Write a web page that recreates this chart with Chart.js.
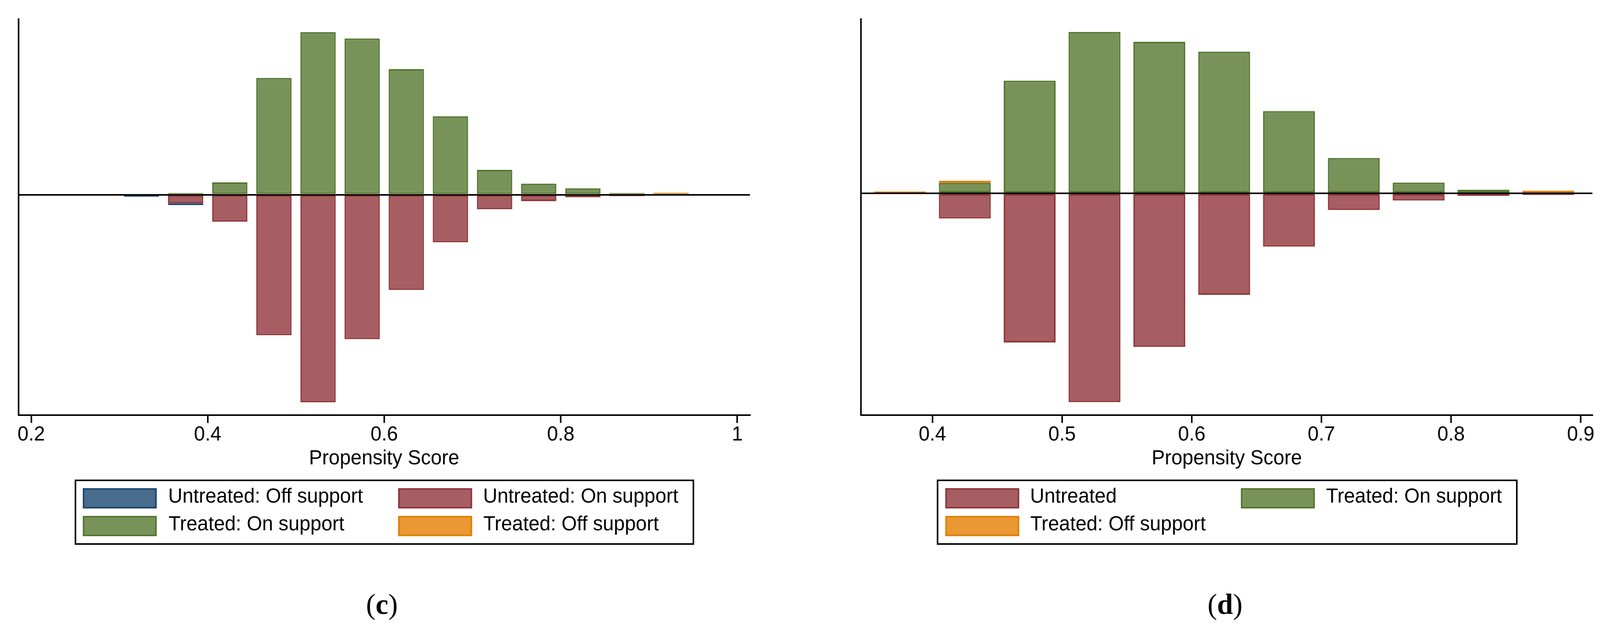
<!DOCTYPE html>
<html><head><meta charset="utf-8">
<script src="https://cdn.jsdelivr.net/npm/chart.js@4.4.1/dist/chart.umd.min.js"></script>
<style>
html,body{margin:0;padding:0;background:#fff;overflow:hidden;}
#root{position:absolute;left:0;top:0;width:4135px;height:1626px;transform-origin:0 0;font-family:"Liberation Sans",Arial,sans-serif;background:#fff;}
canvas{position:absolute;}
.box{position:absolute;border:4px solid #000;box-sizing:border-box;}
.sw{position:absolute;width:191px;height:52px;border:4px solid;box-sizing:border-box;}
.lt{position:absolute;font-size:51px;line-height:51px;white-space:nowrap;color:#000;}
.cap{position:absolute;width:400px;text-align:center;font-family:"Liberation Serif","Times New Roman",serif;font-size:74px;line-height:74px;color:#000;}
</style></head>
<body>
<div id="root">
<canvas id="cC" width="2000" height="1210" style="left:0;top:0;width:2000px;height:1210px"></canvas>
<canvas id="cD" width="1957" height="1210" style="left:2178px;top:0;width:1957px;height:1210px"></canvas>
</div>
<script>
// ---------- data: panel (c) ----------
const binsC = [0.325,0.375,0.425,0.475,0.525,0.575,0.625,0.675,0.725,0.775,0.825,0.875,0.925];
const untreatedOnC  = [null,-5.4,-17.3,-90.0,-132.9,-92.5,-61.0,-30.5,-9.3,-4.1,-1.6,-1.0,null];
const untreatedOffC = [-1.3,-1.25,null,null,null,null,null,null,null,null,null,null,null];
const treatedOnC    = [null,1.1,7.9,74.8,104.1,100.0,80.4,50.2,15.9,7.1,4.1,1.1,null];
const treatedOffC   = [null,null,null,null,null,null,null,null,null,null,null,null,1.3];
const ticksC = [0.2,0.4,0.6,0.8,1];

// ---------- data: panel (d) ----------
const binsD = [0.375,0.425,0.475,0.525,0.575,0.625,0.675,0.725,0.775,0.825,0.875];
const untreatedD  = [null,-16.1,-95.5,-133.7,-98.3,-65.0,-34.1,-10.7,-4.6,-1.7,-1.0];
const treatedOnD  = [null,6.7,72.1,103.3,97.0,90.7,52.6,22.6,6.9,2.3,null];
const treatedOffD = [1.2,1.35,null,null,null,null,null,null,null,null,1.7];
const ticksD = [0.4,0.5,0.6,0.7,0.8,0.9];

const axisTitle = 'Propensity Score';
const COL = {
  blue:  {line:'#1a476f', fill:'#486c8c'},
  red:   {line:'#90353b', fill:'#a65e62'},
  green: {line:'#55752f', fill:'#789359'},
  orange:{line:'#e37e00', fill:'#e99833'}
};

// fit the 4135x1626 drawing to the actual viewport
const root = document.getElementById('root');
const sx = window.innerWidth / 4135, sy = window.innerHeight / 1626;
if (Math.abs(sx - 1) > 0.001 || Math.abs(sy - 1) > 0.001) {
  root.style.transform = 'scale(' + sx + ',' + sy + ')';
}

Chart.defaults.font.family = '"Liberation Sans", Arial, sans-serif';
Chart.defaults.color = '#000';

function makeChart(id, bins, sets, xmin, xmax, ymin, ymax, ticks, pad){
  return new Chart(document.getElementById(id), {
    type:'bar',
    data:{datasets: sets.map(s => ({
      label: s.label,
      data: bins.map((x,i) => ({x:x, y:s.values[i]})).filter(p => p.y !== null),
      backgroundColor: s.col.fill, borderColor: s.col.line, borderWidth: 4,
      borderSkipped: false, barPercentage: 0.8, categoryPercentage: 1.0
    }))},
    options:{
      responsive:false, animation:false, devicePixelRatio:1,
      layout:{padding:pad},
      plugins:{legend:{display:false}, tooltip:{enabled:false}},
      scales:{
        x:{type:'linear', min:xmin, max:xmax, offset:false, stacked:true,
          afterBuildTicks: s => { s.ticks = ticks.map(v => ({value:v})); },
          afterFit: s => { s.paddingLeft = 0; s.paddingRight = 0; },
          grid:{display:true, offset:false, drawOnChartArea:false, drawTicks:true, tickLength:20, tickWidth:4, tickColor:'#000', color:'#000', lineWidth:4},
          border:{display:true, color:'#000', width:4},
          ticks:{padding:0, maxRotation:0, autoSkip:false, font:{size:51}, color:'#000', callback: v => String(v)},
          title:{display:true, text:axisTitle, font:{size:51}, color:'#000', padding:{top:0, bottom:0}}
        },
        y:{min:ymin, max:ymax, stacked:true,
          afterBuildTicks: s => { s.ticks = [{value:0}]; },
          grid:{drawTicks:false, lineWidth:4, color: c => (c.tick && c.tick.value === 0) ? '#000' : 'rgba(0,0,0,0)'},
          border:{display:true, color:'#000', width:4},
          ticks:{display:false}
        }
      }
    }
  });
}

const setsC = [
  {label:'Untreated: On support', values:untreatedOnC, col:COL.red},
  {label:'Untreated: Off support', values:untreatedOffC, col:COL.blue},
  {label:'Treated: On support', values:treatedOnC, col:COL.green},
  {label:'Treated: Off support', values:treatedOffC, col:COL.orange}
];
const setsD = [
  {label:'Untreated', values:untreatedD, col:COL.red},
  {label:'Treated: On support', values:treatedOnD, col:COL.green},
  {label:'Treated: Off support', values:treatedOffD, col:COL.orange}
];

makeChart('cC', binsC, setsC, 0.1855, 1.0143, -141.1, 112.4, ticksC, {left:47.5, right:62, top:49, bottom:4.6});
makeChart('cD', binsD, setsD, 0.345, 0.909, -142.0, 111.5, ticksD, {left:47.4, right:19.7, top:49, bottom:4.6});

// ---------- legends (HTML) ----------
function legend(box, entries){
  const b = document.createElement('div');
  b.className = 'box';
  Object.assign(b.style, {left:box.l+'px', top:box.t+'px', width:(box.r-box.l)+'px', height:(box.b-box.t)+'px'});
  root.appendChild(b);
  entries.forEach(e => {
    const sw = document.createElement('div');
    sw.className = 'sw';
    Object.assign(sw.style, {left:e.sx+'px', top:e.sy+'px', background:e.col.fill, borderColor:e.col.line});
    root.appendChild(sw);
    const t = document.createElement('div');
    t.className = 'lt';
    t.textContent = e.label;
    Object.assign(t.style, {left:e.tx+'px', top:(e.sy-6.5)+'px'});
    root.appendChild(t);
  });
}
legend({l:192.7, t:1228, r:1794, b:1395}, [
  {label:setsC[1].label, col:setsC[1].col, sx:214, sy:1250, tx:434.5},
  {label:setsC[0].label, col:setsC[0].col, sx:1029.3, sy:1250, tx:1248.5},
  {label:setsC[2].label, col:setsC[2].col, sx:214, sy:1321, tx:435.5},
  {label:setsC[3].label, col:setsC[3].col, sx:1029.3, sy:1321, tx:1249}
]);
legend({l:2421.3, t:1228, r:3922, b:1395}, [
  {label:setsD[0].label, col:setsD[0].col, sx:2443.3, sy:1250, tx:2662},
  {label:setsD[1].label, col:setsD[1].col, sx:3206.6, sy:1250, tx:3427},
  {label:setsD[2].label, col:setsD[2].col, sx:2443.3, sy:1321, tx:2662.5}
]);

// ---------- panel captions ----------
function caption(cx, letter){
  const d = document.createElement('div');
  d.className = 'cap';
  d.innerHTML = '(<b>' + letter + '</b>)';
  Object.assign(d.style, {left:(cx-200)+'px', top:(1572-62)+'px'});
  root.appendChild(d);
}
caption(987, 'c');
caption(3166, 'd');
</script>
</body></html>
